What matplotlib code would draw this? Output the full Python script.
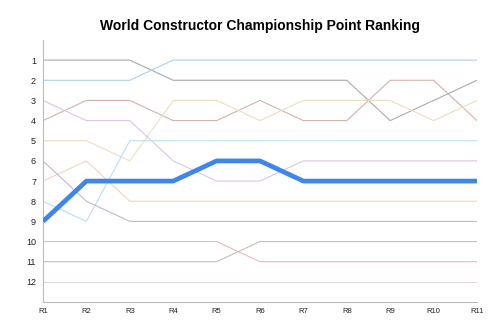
import matplotlib.pyplot as plt

plt.rcParams['font.family'] = ['Liberation Sans', 'DejaVu Sans']

rounds = ['R1', 'R2', 'R3', 'R4', 'R5', 'R6', 'R7', 'R8', 'R9', 'R10', 'R11']

# Championship position of each constructor after every round
team_a = [1, 1, 1, 2, 2, 2, 2, 2, 4, 3, 2]
team_b = [2, 2, 2, 1, 1, 1, 1, 1, 1, 1, 1]
team_c = [4, 3, 3, 4, 4, 3, 4, 4, 2, 2, 4]
team_d = [5, 5, 6, 3, 3, 4, 3, 3, 3, 4, 3]
team_e = [3, 4, 4, 6, 7, 7, 6, 6, 6, 6, 6]
team_f = [8, 9, 5, 5, 5, 5, 5, 5, 5, 5, 5]
team_g = [7, 6, 8, 8, 8, 8, 8, 8, 8, 8, 8]
team_h = [6, 8, 9, 9, 9, 9, 9, 9, 9, 9, 9]
team_i = [10, 10, 10, 10, 10, 11, 11, 11, 11, 11, 11]
team_j = [11, 11, 11, 11, 11, 10, 10, 10, 10, 10, 10]
team_k = [12, 12, 12, 12, 12, 12, 12, 12, 12, 12, 12]
highlight = [9, 7, 7, 7, 6, 6, 7, 7, 7, 7, 7]

others = [
    (team_a, '#aaaaaa'),
    (team_b, '#b0cfea'),
    (team_c, '#d4b0ac'),
    (team_d, '#eadfc0'),
    (team_e, '#dcc4e8'),
    (team_f, '#b8e0ee'),
    (team_g, '#f2d4c0'),
    (team_h, '#c4b6d0'),
    (team_i, '#eababa'),
    (team_j, '#c8bcbc'),
    (team_k, '#e2d8de'),
]

fig = plt.figure(figsize=(5, 3.33), dpi=100)
ax = fig.add_axes([0.086, 0.093, 0.868, 0.787])

x = range(len(rounds))
for ranks, color in others:
    ax.plot(x, ranks, color=color, linewidth=0.8)
ax.plot(x, highlight, color='#3f86ea', linewidth=3.4, solid_capstyle='butt', zorder=5)

ax.set_xlim(0, len(rounds) - 1)
ax.set_ylim(13, 0)
ax.set_yticks(range(1, 13))
ax.set_xticks(list(x))
ax.set_xticklabels(rounds)
ax.tick_params(axis='both', length=0, colors='#222222')
ax.tick_params(axis='y', pad=5, labelsize=6.5)
ax.tick_params(axis='x', pad=4, labelsize=5.5)

for side in ['top', 'right']:
    ax.spines[side].set_visible(False)
for side in ['left', 'bottom']:
    ax.spines[side].set_color('#bbbbbb')
    ax.spines[side].set_linewidth(0.8)

fig.text(0.52, 0.922, 'World Constructor Championship Point Ranking',
         ha='center', va='center', fontsize=10, fontweight='bold')

fig.savefig('out.png', dpi=100)
